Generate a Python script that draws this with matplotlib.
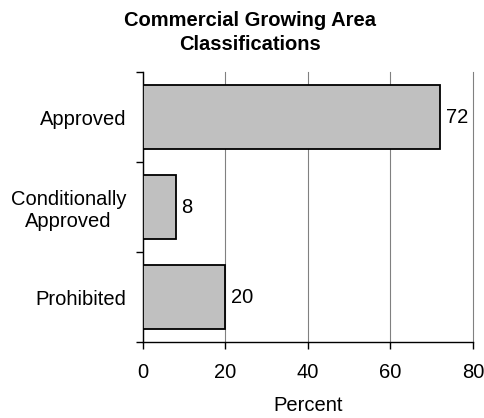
import numpy as np
import matplotlib
matplotlib.use("Agg")
import matplotlib.pyplot as plt

# data (top to bottom)
categories = ["Approved", "Conditionally\nApproved", "Prohibited"]
percent = [72, 8, 20]
xticks = [0, 20, 40, 60, 80]

plt.rcParams["font.family"] = ["Liberation Sans", "DejaVu Sans"]
FS = 14.5

fig = plt.figure(figsize=(4.85, 4.18), dpi=100)
ax = fig.add_axes([0.2948, 0.1818, 0.6804, 0.6459])

y = np.arange(len(categories))
ax.barh(y, percent, height=0.72, color="#C0C0C0", edgecolor="black", linewidth=1.3, zorder=3)
for yi, v in zip(y, percent):
    ax.annotate(str(v), (v, yi), xytext=(4, 0), textcoords="offset points",
                va="center", ha="left", fontsize=FS)

ax.set_xlim(0, 80)
ax.set_ylim(len(categories) - 0.5, -0.5)
ax.set_xticks(xticks)
ax.tick_params(axis="x", labelsize=FS, length=5, width=1, pad=10)

# category boundaries as major ticks, labels at centres
ax.set_yticks(np.arange(len(categories) + 1) - 0.5)
ax.set_yticklabels([])
ax.tick_params(axis="y", which="major", length=5, width=1)
ax.set_yticks(y, minor=True)
ax.set_yticklabels(categories, minor=True, fontsize=FS, multialignment="center")
ax.tick_params(axis="y", which="minor", length=0, pad=12)

ax.grid(axis="x", color="#808080", linewidth=0.8, zorder=0)
for gl in ax.get_xgridlines():
    gl.set_clip_on(False)
ax.spines["top"].set_visible(False)
ax.spines["right"].set_visible(False)
for s in ["left", "bottom"]:
    ax.spines[s].set_linewidth(1)

ax.set_xlabel("Percent", fontsize=FS, labelpad=10)
fig.text(0.515, 0.922, "Commercial Growing Area\nClassifications", ha="center", va="center",
         fontsize=14.5, fontweight="bold", linespacing=1.35)

fig.savefig("out.png", dpi=100)
